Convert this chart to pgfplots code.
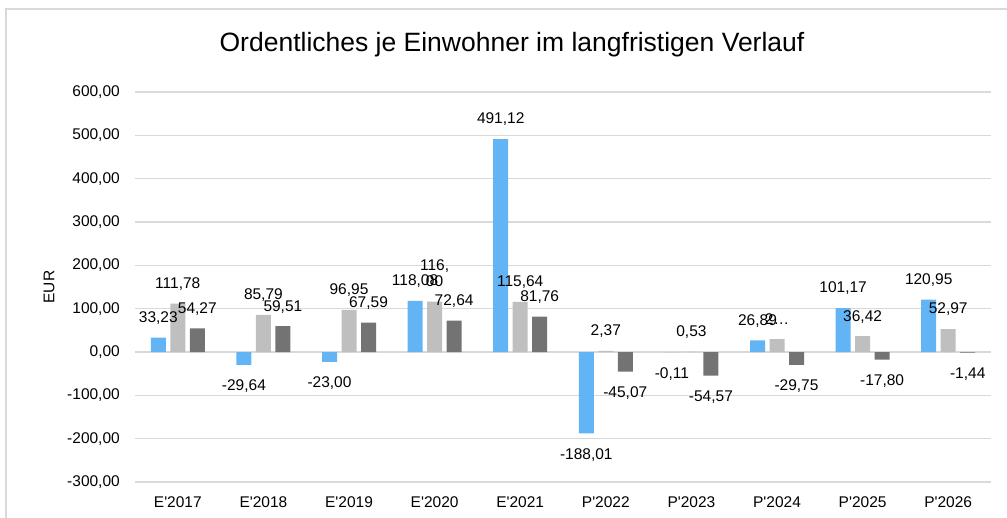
\documentclass[border=0pt]{standalone}
\usepackage{fontspec}
\setmainfont{Liberation Sans}[Ligatures=TeXOff]
\usepackage{pgfplots}
\pgfplotsset{compat=1.18}
\definecolor{cblue}{RGB}{99,180,245}
\definecolor{clight}{RGB}{191,191,191}
\definecolor{cdark}{RGB}{115,115,115}
\definecolor{cgrid}{RGB}{217,217,217}
\newcommand{\wrapl}{\shortstack{116,\\00}}
\begin{document}
\begin{tikzpicture}[x=1pt,y=1pt]
\path[use as bounding box] (0,0) rectangle (1007,517);
\draw[cgrid, line width=1.5pt] (6,-5) -- (6,508) -- (1012,508);
\begin{axis}[
  at={(135pt,35pt)}, anchor=south west,
  scale only axis, width=856pt, height=390pt,
  ybar=4.5pt, bar width=15pt,
  xmin=-0.5, xmax=9.5, ymin=-300, ymax=600,
  ytick={-300,-200,...,600},
  xtick={0,...,9},
  xticklabels={E'2017,E'2018,E'2019,E'2020,E'2021,P'2022,P'2023,P'2024,P'2025,P'2026},
  axis line style={draw=none},
  major tick length=0pt,
  ymajorgrids, major grid style={cgrid, line width=1.3pt},
  clip=false,
  font=\fontsize{15.5}{18}\selectfont,
  /pgf/number format/.cd, use comma, fixed, fixed zerofill, precision=2, 1000 sep={}, assume math mode=true,
  /pgfplots/.cd,
  yticklabel style={anchor=east, inner sep=0pt, xshift=-15pt},
  xticklabel style={anchor=north, inner sep=0pt, yshift=-14pt},
  ylabel={EUR},
  every axis y label/.style={at={(rel axis cs:0,0.5)}, xshift=-86pt, rotate=90, anchor=center},
  point meta=explicit symbolic,
  visualization depends on={rawy \as \ry},
  nodes near coords={\pgfplotspointmeta},
  every node near coord/.append style={font=\fontsize{15.5}{17}\selectfont, black, inner xsep=0pt, inner ysep=15pt, text depth=0pt,
    /utils/exec={\ifdim\ry pt<0pt \gdef\myanc{north}\else\gdef\myanc{south}\fi}, anchor=\myanc},
]
\addplot[fill=cblue, draw=none] coordinates {
  (0,33.23) [{33,23}] (1,-29.64) [{-29,64}] (2,-23.00) [{-23,00}] (3,118.08) [{118,08}] (4,491.12) [{491,12}]
  (5,-188.01) [{-188,01}] (6,-0.11) [{-0,11}] (7,26.89) [{26,89}] (8,101.17) [{101,17}] (9,120.95) [{120,95}]
};
\addplot[fill=clight, draw=none] coordinates {
  (0,111.78) [{111,78}] (1,85.79) [{85,79}] (2,96.95) [{96,95}] (3,116.00) [\wrapl] (4,115.64) [{115,64}]
  (5,2.37) [{2,37}] (6,0.53) [{0,53}] (7,29.50) [{2…}] (8,36.42) [{36,42}] (9,52.97) [{52,97}]
};
\addplot[fill=cdark, draw=none] coordinates {
  (0,54.27) [{54,27}] (1,59.51) [{59,51}] (2,67.59) [{67,59}] (3,72.64) [{72,64}] (4,81.76) [{81,76}]
  (5,-45.07) [{-45,07}] (6,-54.57) [{-54,57}] (7,-29.75) [{-29,75}] (8,-17.80) [{-17,80}] (9,-1.44) [{-1,44}]
};
\end{axis}
\node[font=\fontsize{26.5}{30}\selectfont] at (512,472) {Ordentliches je Einwohner im langfristigen Verlauf};
\end{tikzpicture}
\end{document}
